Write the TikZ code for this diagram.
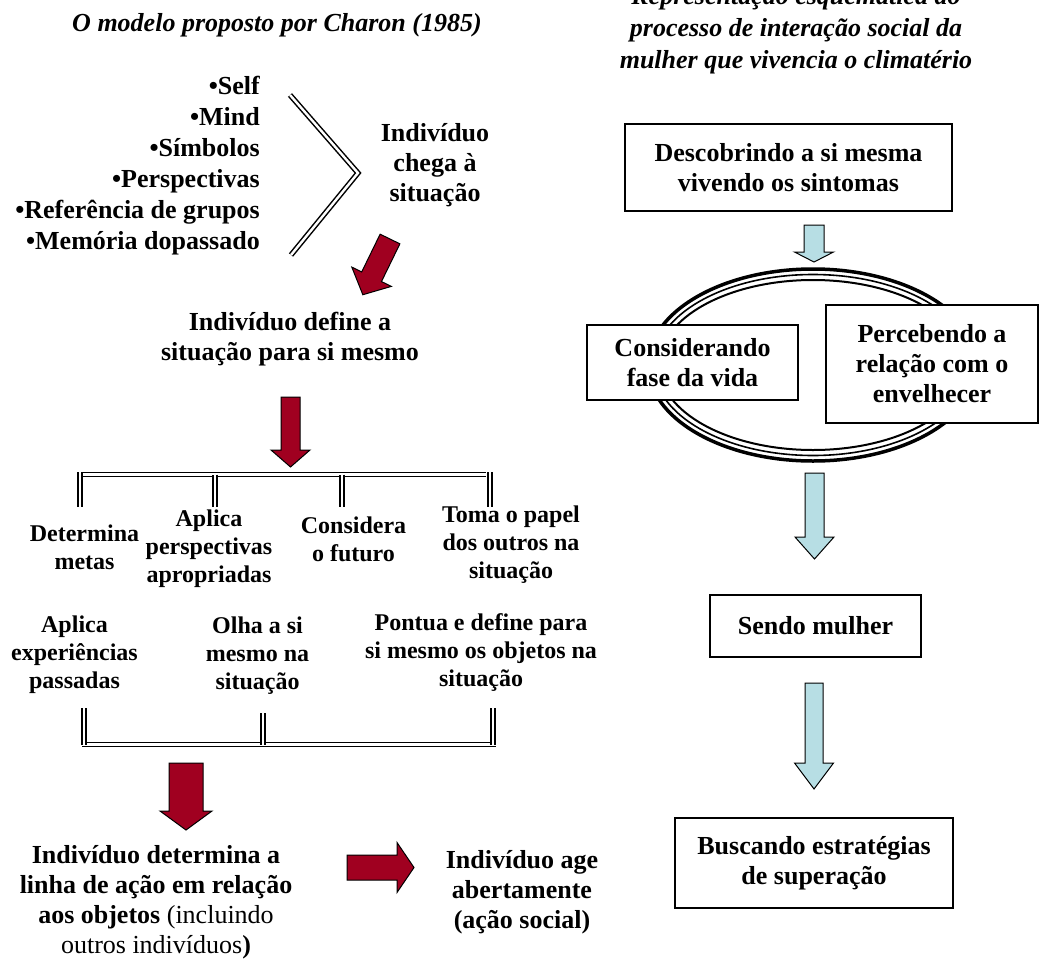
\documentclass[tikz,border=0pt]{standalone}
\usepackage{fontspec}
\setmainfont{Liberation Serif}
\usetikzlibrary{positioning}

\definecolor{darkred}{RGB}{160,0,32}
\definecolor{paleblue}{RGB}{183,222,228}

% block arrow: style, tail, angle, length, half shaft, half head, head length
\newcommand{\fatarrow}[7]{%
  \draw[#1, shift={#2}, rotate=#3] (0,-#5) -- ({#4-#7},-#5) -- ({#4-#7},-#6)
    -- (#4,0) -- ({#4-#7},#6) -- ({#4-#7},#5) -- (0,#5) -- cycle;}

\begin{document}
\begin{tikzpicture}[x=1pt, y=-1pt,
  txt/.style={font=\bfseries\fontsize{26}{30}\selectfont, align=center, inner sep=0pt},
  sub/.style={font=\bfseries\fontsize{24}{28}\selectfont, align=center, inner sep=0pt},
  head/.style={font=\bfseries\itshape\fontsize{26}{32}\selectfont, align=center, inner sep=0pt},
  box/.style={txt, draw, line width=1.3pt, fill=white},
  dbl/.style={draw, line width=1.5pt, double=white, double distance=2.4pt},
  redarrow/.style={fill=darkred, draw=black, line width=1pt, line join=miter},
  bluearrow/.style={fill=paleblue, draw=black, line width=1pt, line join=miter}]
  \useasboundingbox (0,0) rectangle (1040,958);

  % Charon's model
  \node[head] (charon) at (277,25) {O modelo proposto por Charon (1985)};
  \node[txt, anchor=east, align=right, font=\bfseries\fontsize{26}{31}\selectfont] (traits) at (260,165.5)
    {•Self\\•Mind\\•Símbolos\\•Perspectivas\\•Referência de grupos\\•Memória dopassado};
  \draw[dbl, line join=miter] (290,95) -- (358,173) -- (291,255);
  \node[txt] (arrives) at (435,165) {Indivíduo\\chega à\\situação};
  \fatarrow{redarrow}{(390,239)}{-116}{62}{11}{22}{20}
  \node[txt] (defines) at (290,339) {Indivíduo define a\\situação para si mesmo};
  \fatarrow{redarrow}{(290.5,397)}{-90}{70}{9.5}{19.5}{17}

  % upper bracket
  \draw[dbl] (81,474.5) -- (486,474.5);
  \foreach \x in {215,342} \draw[dbl] (\x,474.5) -- (\x,507);
  \foreach \x in {80,490} \draw[dbl] (\x,472) -- (\x,507);

  \node[sub] (goals) at (84.5,547.5) {Determina\\metas};
  \node[sub] (persp) at (209,548.5) {Aplica\\perspectivas\\apropriadas};
  \node[sub] (future) at (353.5,539) {Considera\\o futuro};
  \node[sub] (others) at (511,545) {Toma o papel\\dos outros na\\situação};
  \node[sub] (past) at (74.5,654.5) {Aplica\\experiências\\passadas};
  \node[sub] (self) at (257.5,655.5) {Olha a si\\mesmo na\\situação};
  \node[sub] (objects) at (481,652.5) {Pontua e define para\\si mesmo os objetos na\\situação};

  % lower bracket
  \draw[dbl] (82,744.5) -- (496,744.5);
  \foreach \x/\y in {84/708, 263/713, 493/708} \draw[dbl] (\x,\y) -- (\x,744.5);

  \fatarrow{redarrow}{(186,763)}{-90}{67}{17}{26}{19}
  \node[txt] (line) at (156,902) {Indivíduo determina a\\linha de ação em relação\\aos objetos \textmd{(incluindo}\\\textmd{outros indivíduos})};
  \fatarrow{redarrow}{(347,867.5)}{0}{67}{12.5}{25}{17}
  \node[txt] (acts) at (522,892) {Indivíduo age\\abertamente\\(ação social)};

  % climacteric scheme
  \node[head] (scheme) at (796,30) {Representação esquemática do\\processo de interação social da\\mulher que vivencia o climatério};
  \node[box, minimum width=327pt, minimum height=87pt] (discover) at (788.5,167.5) {Descobrindo a si mesma\\vivendo os sintomas};
  \fatarrow{bluearrow}{(814,225)}{-90}{37}{10}{19.5}{10}
  \draw[line width=3.5pt] (813,365) ellipse [x radius=165, y radius=96];
  \draw[line width=1.6pt] (813,365) ellipse [x radius=159.5, y radius=90.5];
  \draw[line width=2pt] (813,365) ellipse [x radius=154, y radius=85];
  \node[box, minimum width=211pt, minimum height=75pt] (phase) at (692.5,362.5) {Considerando\\fase da vida};
  \node[box, minimum width=212pt, minimum height=118pt] (ageing) at (932,364) {Percebendo a\\relação com o\\envelhecer};
  \fatarrow{bluearrow}{(814.5,473)}{-90}{86}{9.5}{19.5}{22}
  \node[box, minimum width=211pt, minimum height=62pt] (woman) at (815.5,626) {Sendo mulher};
  \fatarrow{bluearrow}{(814,683)}{-90}{106}{9}{19.5}{26}
  \node[box, minimum width=278pt, minimum height=90pt] (coping) at (814,863) {Buscando estratégias\\de superação};
\end{tikzpicture}
\end{document}
